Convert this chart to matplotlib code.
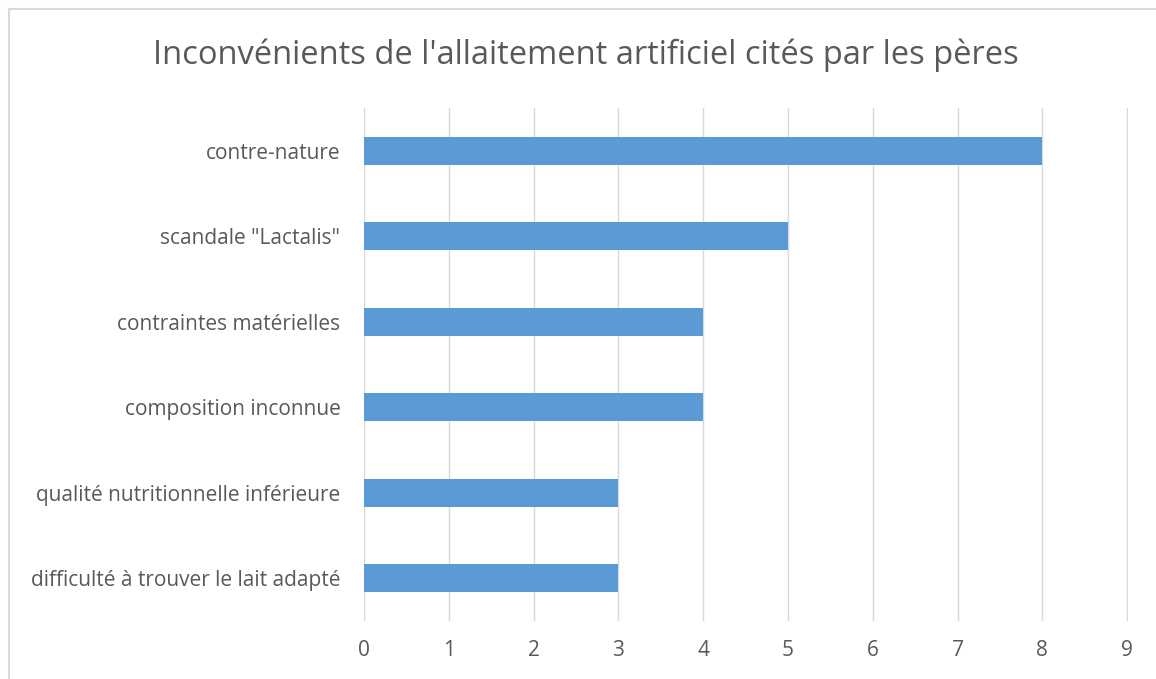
import matplotlib.pyplot as plt
from matplotlib.patches import Rectangle

categories = [
    "contre-nature",
    'scandale "Lactalis"',
    "contraintes matérielles",
    "composition inconnue",
    "qualité nutritionnelle inférieure",
    "difficulté à trouver le lait adapté",
]
values = [8, 5, 4, 4, 3, 3]
xticks = list(range(0, 10))

plt.rcParams['font.family'] = ['Open Sans', 'DejaVu Sans']
text_color = '#595959'

fig = plt.figure(figsize=(11.56, 6.79), dpi=100)
ax = fig.add_axes([0.3149, 0.0854, 0.6609, 0.7556])

# outer chart frame
fig.patches.append(Rectangle((9 / 1156, -0.1), 1.2, 1 - 9 / 679 + 0.1,
                             transform=fig.transFigure, fill=False,
                             edgecolor='#d9d9d9', linewidth=1.5))

pos = list(range(len(categories)))
ax.barh(pos, values, height=0.33, color='#5b9bd5', zorder=3)
ax.set_ylim(len(categories) - 0.5, -0.5)
ax.set_xlim(0, 9.01)
ax.set_xticks(xticks)
ax.set_yticks(pos)
ax.set_yticklabels(categories)
ax.grid(axis='x', color='#d9d9d9', linewidth=1, zorder=0)
for s in ax.spines.values():
    s.set_visible(False)
ax.tick_params(length=0, labelsize=15, labelcolor=text_color)
ax.tick_params(axis='y', pad=17)
ax.tick_params(axis='x', pad=14)

fig.text(585.5 / 1156, 1 - 55 / 679, "Inconvénients de l'allaitement artificiel cités par les pères",
         ha='center', va='center', fontsize=23.5, color=text_color)

fig.savefig('out.png', dpi=100)
